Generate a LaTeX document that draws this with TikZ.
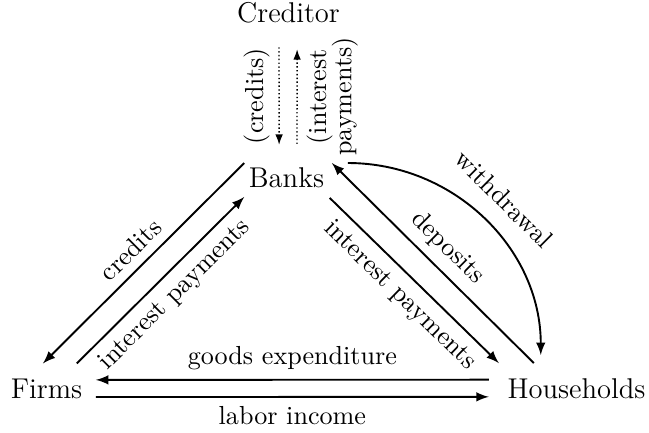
\documentclass[11pt,tikz,border=0pt]{standalone}
\usetikzlibrary{arrows.meta}

\begin{document}
\begin{tikzpicture}[>=latex,flow/.style={thick,->},loan/.style={semithick,densely dotted,-{Latex[length=4.4pt,width=3.2pt]}},side/.style={font=\large}]
    \useasboundingbox (0,0) rectangle (9.571,6.371);

    \node[side,anchor=base] (Creditor) at (4.255,6.032) {Creditor};
    \node[side,anchor=base] (Banks) at (4.225,3.599) {Banks};
    \node[side,anchor=base] (Firms) at (0.686,0.501) {Firms};
    \node[side,anchor=base] (Households) at (8.502,0.501) {Households};

    % creditor and banks
    \draw[loan] ([xshift=-4pt,yshift=-6.1pt]Creditor.south) -- ([xshift=-3.1pt,yshift=5.9pt]Banks.north)
        node[midway,rotate=90,above] {(credits)};
    \draw[loan] ([xshift=4.4pt,yshift=6.3pt]Banks.north) -- ([xshift=3.6pt,yshift=-6.9pt]Creditor.south)
        node[midway,rotate=90,below,align=center] {(interest\\[-3pt]payments)};

    % banks and firms
    \draw[flow] ([xshift=1.9pt,yshift=-1.7pt]Banks.north west) -- ([xshift=-1.5pt,yshift=2.5pt]Firms.north)
        node[midway,above,sloped] {credits};
    \draw[flow] ([xshift=-6.1pt,yshift=2.5pt]Firms.north east) -- ([xshift=1.9pt,yshift=0.2pt]Banks.south west)
        node[midway,below,sloped] {interest payments};

    % banks and households
    \draw[flow] ([xshift=14.9pt,yshift=2.5pt]Households.north west) -- ([xshift=-0.6pt,yshift=-1.7pt]Banks.north east)
        node[midway,above,sloped] {deposits};
    \draw[flow] ([xshift=-1.5pt,yshift=-0.2pt]Banks.south east) -- ([xshift=0.2pt,yshift=2.5pt]Households.north west)
        node[midway,below,sloped] {interest payments};
    \draw[flow] ([xshift=6.1pt,yshift=-1.7pt]Banks.north east) to[out=0,in=90]
        node[midway,above=4pt,sloped] {withdrawal} ([xshift=17.8pt,yshift=5.9pt]Households.north west);

    % firms and households
    \draw[flow] ([xshift=-4pt,yshift=3.6pt]Households.west) -- ([xshift=1.9pt,yshift=3.6pt]Firms.east)
        node[midway,above] {goods expenditure};
    \draw[flow] ([xshift=1.9pt,yshift=-3.6pt]Firms.east) -- ([xshift=-4pt,yshift=-3.6pt]Households.west)
        node[midway,below] {labor income};
\end{tikzpicture}
\end{document}
